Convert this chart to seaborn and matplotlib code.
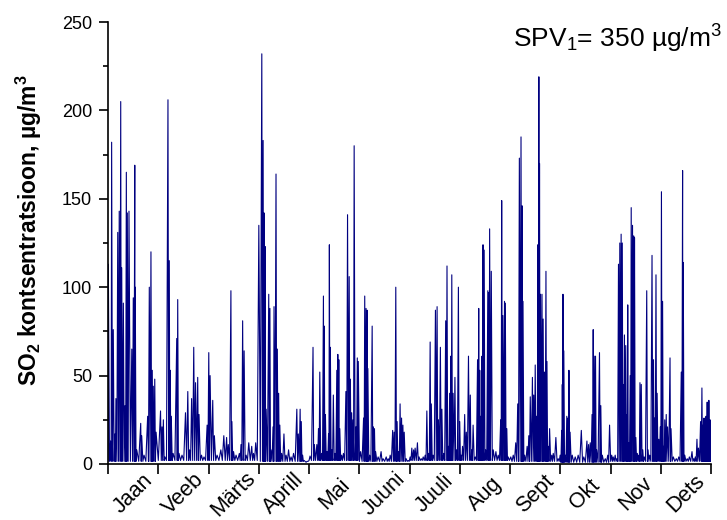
import matplotlib
matplotlib.use("Agg")
import matplotlib.pyplot as plt
import matplotlib.ticker as mticker
import numpy as np
import pandas as pd
import seaborn as sns

# Hourly SO2 episodes through the year: day of year of each peak and its value (µg/m³)
peak_day = [
    0.2, 1.6, 2.2, 3.2, 4.2, 4.8, 5.9, 6.8, 7.7, 8.3, 9.3, 10.3, 11.1, 11.7, 12.7, 14.4,
    15.3, 16.2, 16.5, 17.4, 19.8, 20.4, 21.8, 24.0, 25.0, 26.0, 26.8, 27.4, 28.3, 29.1,
    31.8, 32.7, 33.5, 34.5, 36.3, 37.1, 37.7, 38.3, 39.4, 41.6, 42.2, 43.0, 44.8, 46.9,
    48.3, 49.4, 50.6, 51.9, 53.0, 54.3, 55.1, 56.6, 58.1, 60.0,
    61.0, 61.8, 63.4, 64.4, 66.0, 68.3, 70.1, 71.8, 72.8, 74.4, 75.0, 76.0, 77.5, 79.5,
    80.5, 81.5, 82.4, 83.6, 85.2, 87.0, 88.1, 89.4,
    91.3, 93.1, 93.9, 94.5, 95.1, 95.7, 97.3, 98.0, 98.7, 99.9, 100.5, 101.7, 102.5,
    103.3, 104.0, 105.1, 106.5, 107.8, 109.3, 110.8, 112.3, 114.3, 115.2, 116.3, 117.0,
    117.8, 118.7, 119.9, 121.1,
    122.3, 124.1, 124.9, 126.4, 127.4, 128.2, 129.3, 130.4, 130.9, 131.6, 132.6, 133.5,
    134.0, 134.6, 135.5, 136.4, 137.4, 138.5, 139.1, 139.7, 140.3, 141.4, 142.5, 144.0,
    145.0, 146.0, 146.7, 147.5, 148.3, 149.0, 150.1, 150.9, 151.5,
    152.9, 154.7, 155.4, 156.2, 156.8, 157.3, 158.4, 159.9, 160.6, 161.3, 162.0, 163.5,
    165.3, 166.5, 168.4, 169.6, 170.8, 172.3, 173.2, 174.2, 175.0, 175.9, 176.8, 177.7,
    178.5, 179.3, 180.5, 181.7,
    182.9, 183.9, 185.0, 185.9, 187.3, 188.3, 189.6, 190.8, 192.0, 193.0, 194.0, 195.0,
    195.7, 196.8, 198.2, 199.2, 200.0, 201.2, 202.1, 203.2, 204.4, 205.2, 206.0, 206.8,
    207.5, 208.1, 208.9, 210.0, 210.9, 212.1, 212.9,
    213.8, 214.6, 215.9, 216.9, 218.2, 219.3, 220.1, 221.0, 222.3, 223.7, 224.4, 225.0,
    225.7, 226.4, 227.0, 227.7, 228.6, 229.9, 230.4, 231.0, 232.0, 233.2, 234.8, 236.2,
    237.7, 238.3, 239.0, 240.0, 240.5, 241.4, 242.2,
    243.8, 245.3, 246.8, 248.0, 249.0, 250.0, 250.7, 251.2, 252.2, 253.7, 254.7, 255.6,
    256.9, 257.7, 258.6, 259.5, 260.2, 260.8, 261.2, 261.8, 262.7, 263.4, 264.2, 265.1,
    265.7, 266.5, 267.3, 268.6, 269.5, 271.1, 272.5,
    273.7, 274.6, 275.0, 275.4, 275.9, 276.8, 277.7, 278.4, 279.0, 279.7, 281.0, 282.8,
    284.6, 286.5, 288.0, 289.9, 290.9, 291.9, 293.0, 293.7, 294.3, 295.1, 295.8, 297.5,
    298.3, 299.2, 301.0, 302.5, 303.6,
    304.9, 305.8, 307.0, 308.0, 309.0, 309.8, 310.6, 311.3, 312.0, 312.6, 313.4, 314.0,
    314.6, 315.2, 316.1, 316.7, 317.5, 318.2, 318.7, 319.5, 320.4, 321.3, 322.0, 322.8,
    323.7, 324.6, 326.1, 326.9, 327.9, 329.3, 330.2, 330.8, 331.7, 332.4, 333.4, 334.3,
    335.0, 335.7, 336.4, 337.0, 337.9, 338.7, 340.2, 340.8, 342.2, 344.0, 345.5, 347.0,
    347.8, 348.2, 349.1, 350.6, 351.9, 353.5, 354.6, 355.5, 356.5, 357.4, 358.7, 359.5,
    360.2, 360.8, 361.4, 362.0, 362.7, 363.2, 363.7, 364.4, 364.9,
]
peak_value = [
    113, 13, 182, 76, 17, 37, 131, 143, 205, 111, 91, 33, 165, 142, 143, 65,
    94, 169, 100, 8, 23, 16, 5, 27, 100, 120, 53, 44, 48, 18,
    30, 21, 25, 4, 206, 115, 53, 27, 6, 71, 93, 6, 5, 29,
    41, 8, 37, 66, 46, 49, 28, 5, 4, 22,
    63, 50, 36, 16, 5, 8, 16, 15, 11, 98, 24, 7, 5, 6,
    11, 81, 64, 5, 12, 10, 6, 12,
    135, 232, 183, 142, 123, 31, 96, 88, 8, 21, 89, 164, 65,
    40, 22, 6, 17, 5, 8, 4, 6, 31, 17, 31, 24,
    5, 2, 1, 1.5,
    4.5, 66, 11, 11, 20, 52, 6, 95, 78, 28, 7, 17,
    124, 66, 8, 39, 6, 53, 62, 59, 20, 5, 6, 41,
    141, 106, 48, 29, 25, 180, 21, 60, 58,
    7, 26, 95, 88, 87, 54, 5, 78, 21, 20, 7, 4,
    7, 3, 4, 3, 5, 19, 18, 100, 24, 7, 34, 26,
    22, 18, 3, 2,
    4, 9, 8, 9, 12, 4, 3, 4, 5, 30, 6, 69,
    34, 5, 87, 89, 25, 66, 31, 6, 81, 112, 10, 40,
    61, 107, 40, 49, 8, 100, 24,
    5, 10, 28, 18, 61, 39, 8, 22, 4, 59, 88, 53,
    27, 61, 124, 121, 8, 98, 97, 133, 109, 8, 7, 5,
    25, 149, 84, 92, 91, 20, 4,
    4, 5, 12, 34, 173, 185, 146, 92, 5, 10, 16, 38,
    49, 39, 56, 27, 124, 219, 170, 96, 96, 82, 52, 109,
    58, 10, 20, 5, 6, 15, 3,
    5, 19, 45, 96, 64, 5, 27, 26, 53, 18, 5, 4,
    5, 19, 4, 13, 11, 12, 28, 76, 61, 61, 8, 63,
    33, 5, 3, 5, 22,
    5, 4, 5, 3, 113, 125, 130, 125, 45, 73, 67, 28,
    90, 12, 50, 145, 135, 129, 128, 15, 6, 5, 46, 45,
    8, 4, 98, 8, 5, 118, 59, 26, 107, 40, 14, 21,
    154, 92, 10, 25, 28, 21, 60, 20, 4, 3, 4, 52,
    166, 114, 5, 3, 4, 7, 3, 4, 14, 9, 24, 43,
    22, 26, 25, 27, 35, 25, 36, 25, 10,
]
# Typical background level between episodes, one per month
background = [1.5, 2, 2, 1.5, 2, 1.5, 2, 2, 1.5, 1, 1.5, 1.5]

months = ["Jaan", "Veeb", "Märts", "Aprill", "Mai", "Juuni",
          "Juuli", "Aug", "Sept", "Okt", "Nov", "Dets"]

# Build the trace: each peak separated from the next by a background trough
days_per_month = 365 / 12
t, c = [0.0], [background[0]]
for i, (d, p) in enumerate(zip(peak_day, peak_value)):
    t.append(d)
    c.append(p)
    if i + 1 < len(peak_day):
        mid = (d + peak_day[i + 1]) / 2
        t.append(mid)
        c.append(background[min(int(mid // days_per_month), 11)])
t.append(365.0)
c.append(background[-1])
df = pd.DataFrame({"day": t, "so2": c})

sns.set_style("ticks")
plt.rcParams["font.family"] = ["Liberation Sans", "DejaVu Sans"]
plt.rcParams["mathtext.default"] = "regular"

fig = plt.figure(figsize=(7.27, 5.20), dpi=100)
ax = fig.add_axes([108 / 727, 56 / 520, 603 / 727, 442 / 520])

sns.lineplot(data=df, x="day", y="so2", ax=ax, sort=False, estimator=None,
             color="#000080", linewidth=0.8)

ax.set_xlim(0, 365)
ax.set_ylim(0, 250)
sns.despine(ax=ax)
for side in ("left", "bottom"):
    ax.spines[side].set_linewidth(1.2)
    ax.spines[side].set_color("black")

# y: majors every 50, minors every 25
ax.yaxis.set_major_locator(mticker.MultipleLocator(50))
ax.yaxis.set_minor_locator(mticker.MultipleLocator(25))

# x: ticks at month boundaries, month names centred in each month
ax.set_xticks([k * days_per_month for k in range(13)])
ax.set_xticklabels([])
ax.set_xticks([(k + 0.5) * days_per_month for k in range(12)], minor=True)
ax.set_xticklabels(months, minor=True, rotation=45, ha="center", va="center",
                   rotation_mode="anchor", fontsize=15.5)

ax.tick_params(axis="both", which="major", direction="out", width=1.2,
               color="black", labelcolor="black")
ax.tick_params(axis="y", which="major", length=6.5, pad=5, labelsize=13)
ax.tick_params(axis="x", which="major", length=7)
ax.tick_params(axis="x", which="minor", length=0, pad=21.5, labelcolor="black")
ax.tick_params(axis="y", which="minor", length=3.3, width=1.2, color="black")

ax.set_xlabel("")
ax.set_ylabel("SO$_2$ kontsentratsioon, µg/m$^3$", fontsize=16.5,
              fontweight="bold", color="black")
ax.yaxis.set_label_coords(-0.106, 0.53)

ax.text(0.672, 0.941, "SPV$_1$= 350 µg/m$^3$", transform=ax.transAxes,
        fontsize=19, ha="left", va="baseline", color="black")

fig.savefig("out.png", dpi=100)
